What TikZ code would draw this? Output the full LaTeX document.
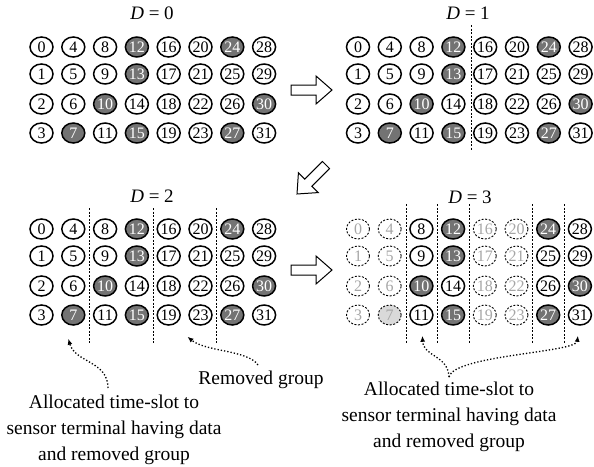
\documentclass[tikz,border=0pt]{standalone}
\usepackage{fontspec}
\setmainfont{Liberation Serif}
\usepackage{xcolor}
\usetikzlibrary{shapes.geometric,arrows.meta}

\begin{document}
\begin{tikzpicture}[x=1pt,y=-1pt,
  slot/.style={ellipse,draw,line width=1.5pt,minimum width=23pt,minimum height=20pt,inner sep=0pt,font=\fontsize{16}{16}\selectfont},
  dark/.style={fill=black!55,text=white},
  gone/.style={line width=0.9pt,dash pattern=on 2pt off 1.6pt,text=black!35},
  gonedark/.style={gone,fill=black!15},
  sep/.style={line width=1pt,dash pattern=on 2pt off 1.5pt},
  conn/.style={line width=1.3pt,dotted,-{Latex[length=6pt,width=5pt]}},
  note/.style={font=\fontsize{19.5}{26}\selectfont,align=center,inner sep=0pt},
  title/.style={font=\fontsize{19}{19}\selectfont,inner sep=0pt},
  blockarrow/.pic={\draw[line width=1pt,fill=white] (0,-5) -- (25,-5) -- (25,-14) -- (41,0) -- (25,14) -- (25,5) -- (0,5) -- cycle;},
  s7/.style=dark, s10/.style=dark, s12/.style=dark, s13/.style=dark,
  s15/.style=dark, s24/.style=dark, s27/.style=dark, s30/.style=dark,
  r0/.style=gone, r1/.style=gone, r2/.style=gone, r3/.style=gone,
  r4/.style=gone, r5/.style=gone, r6/.style=gone, r7/.style=gonedark,
  r16/.style=gone, r17/.style=gone, r18/.style=gone, r19/.style=gone,
  r20/.style=gone, r21/.style=gone, r22/.style=gone, r23/.style=gone]
\useasboundingbox (0,0) rectangle (594,466);

\node[title] (t0) at (152,13) {\textit{D} = 0};
\node[title] (t1) at (468,13) {\textit{D} = 1};
\node[title] (t2) at (152,196) {\textit{D} = 2};
\node[title] (t3) at (470,197) {\textit{D} = 3};

\foreach \p/\x/\y in {a/41.5/47, b/358/47, c/41.5/229}
  \foreach \c in {0,...,7}
    \foreach \r/\dy in {0/0, 1/27, 2/57, 3/86} {
      \pgfmathtruncatemacro\n{4*\c+\r}
      \node[slot, s\n/.try] (\p\n) at (\x+31.8*\c, \y+\dy) {\n};
    }
\foreach \c in {0,...,7}
  \foreach \r/\dy in {0/0, 1/27, 2/57, 3/86} {
    \pgfmathtruncatemacro\n{4*\c+\r}
    \node[slot, s\n/.try, r\n/.try] (d\n) at (358+31.7*\c, 229+\dy) {\n};
  }

\draw[sep] (471,25) -- (471,150);
\foreach \x in {89,153,216}
  \draw[sep] (\x,208) -- (\x,343);
\foreach \x in {406,437,469,532,564}
  \draw[sep] (\x,204) -- (\x,343);

\pic at (291,90) {blockarrow};
\pic[rotate=225] at (326,165) {blockarrow};
\pic at (291,270) {blockarrow};

\node[note,anchor=north] (leftnote) at (114,395) {Allocated time-slot to\\sensor terminal having data\\and removed group};
\node[note,anchor=north] (removed) at (261,371) {Removed group};
\node[note,anchor=north] (rightnote) at (449,382) {Allocated time-slot to\\sensor terminal having data\\and removed group};

\draw[conn] ([shift={(-6,-7)}]leftnote.north) .. controls +(0,-27) and +(7,24) .. ([shift={(-5,13)}]c7.south);
\draw[conn] ([shift={(-3,-6)}]removed.north) .. controls +(-10,-15) and +(18,15) .. ([shift={(-13,11)}]c23.south);
\draw[conn] ([yshift=5pt]rightnote.north) .. controls +(-1,-22) and +(1,21) .. ([shift={(1,10)}]d11.south);
\draw[conn] ([yshift=5pt]rightnote.north) .. controls +(5,-22) and +(-2,17) .. ([shift={(-2,10)}]d31.south);
\end{tikzpicture}
\end{document}
